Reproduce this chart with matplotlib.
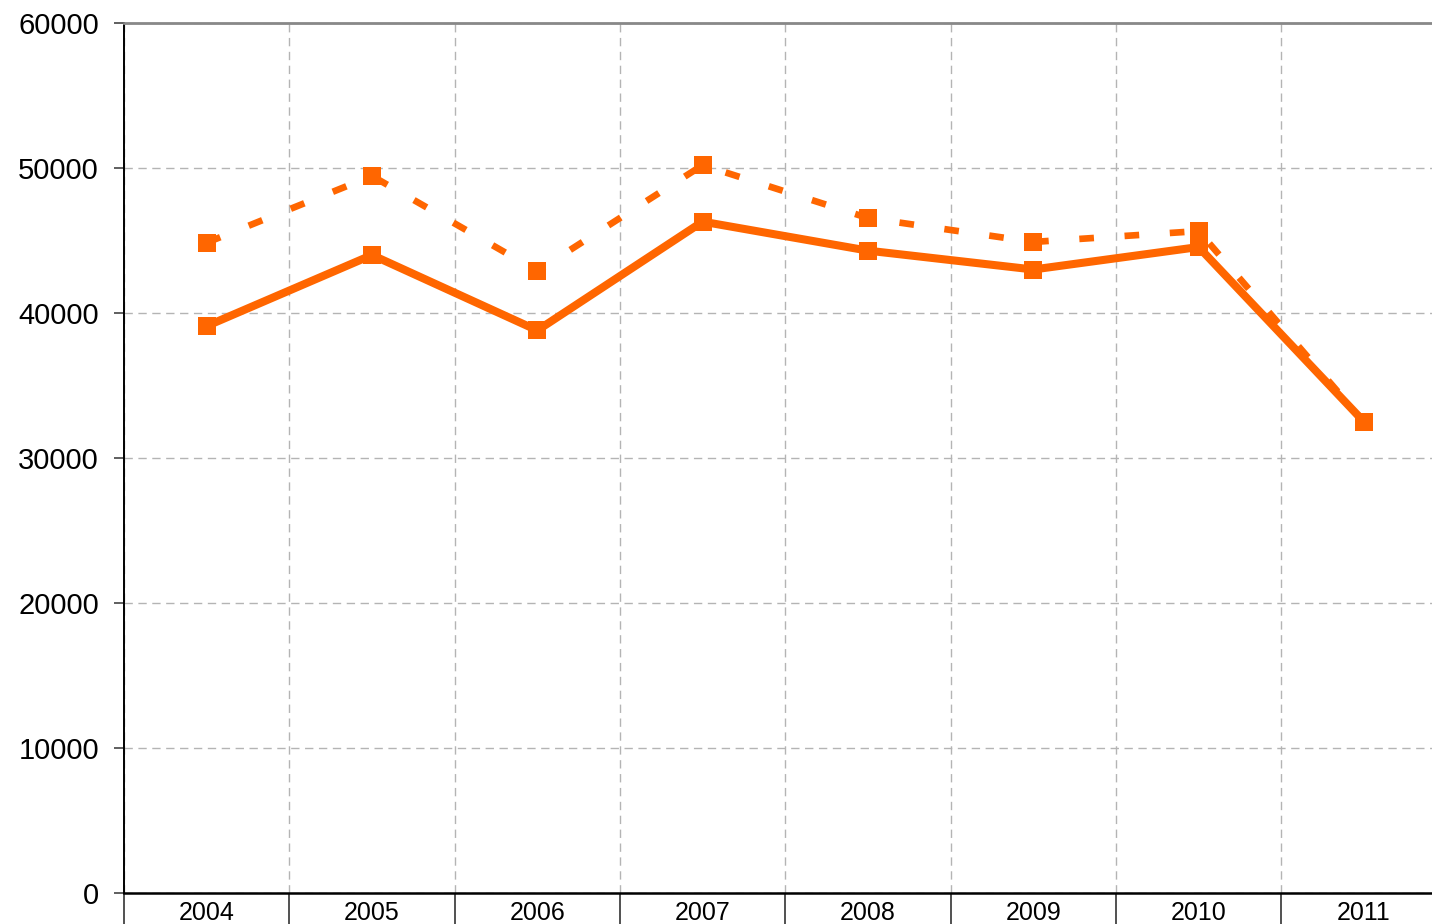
import matplotlib
matplotlib.use("Agg")
import matplotlib.pyplot as plt
import numpy as np

# ── Data ──
years = ["2004", "2005", "2006", "2007", "2008", "2009", "2010", "2011"]
series_solid = [39100, 44000, 38800, 46300, 44300, 43000, 44550, 32500]
series_dashed = [44850, 49450, 42900, 50200, 46550, 44900, 45650, 32500]

ORANGE = "#FF6600"
GRID = "#b4b4b4"

plt.rcParams["font.family"] = ["Liberation Sans", "DejaVu Sans"]

fig = plt.figure(figsize=(14.32, 9.24), dpi=100)
# axes runs a little past the right edge of the canvas
ax = fig.add_axes([124 / 1432, 31 / 924, 1322.6 / 1432, 870 / 924])

x = np.arange(len(years))

ax.plot(x, series_dashed, color=ORANGE, linewidth=4.8, dashes=(2.2, 4.6),
        marker="s", markersize=13.5, markeredgewidth=0, zorder=3)
ax.plot(x, series_solid, color=ORANGE, linewidth=5.8, solid_joinstyle="miter",
        marker="s", markersize=13.5, markeredgewidth=0, zorder=4)

ax.set_xlim(-0.5, len(years) - 0.5)
ax.set_ylim(0, 60000)

# category labels centred in each bin, tick lines on the bin edges
ax.set_xticks(x)
ax.set_xticklabels(years, fontsize=18)
ax.tick_params(axis="x", which="major", length=0, pad=6)
ax.set_xticks(np.arange(len(years) + 1) - 0.5, minor=True)
ax.tick_params(axis="x", which="minor", length=40, width=1.2, color="#333333")

ax.set_yticks(np.arange(0, 60001, 10000))
ax.set_yticklabels([str(v) for v in range(0, 60001, 10000)], fontsize=21)
ax.tick_params(axis="y", length=7, width=1.2, color="#444444", pad=11)

ax.grid(True, axis="y", which="major", color=GRID, linestyle=(0, (6, 4)), linewidth=1)
ax.grid(True, axis="x", which="minor", color=GRID, linestyle=(0, (6, 4)), linewidth=1)
ax.set_axisbelow(True)

ax.spines["top"].set_color("#888888")
ax.spines["top"].set_linewidth(2)
ax.spines["left"].set_color("black")
ax.spines["left"].set_linewidth(1.4)
ax.spines["bottom"].set_color("black")
ax.spines["bottom"].set_linewidth(1.8)
ax.spines["right"].set_visible(False)

fig.savefig("out.png", dpi=100)
